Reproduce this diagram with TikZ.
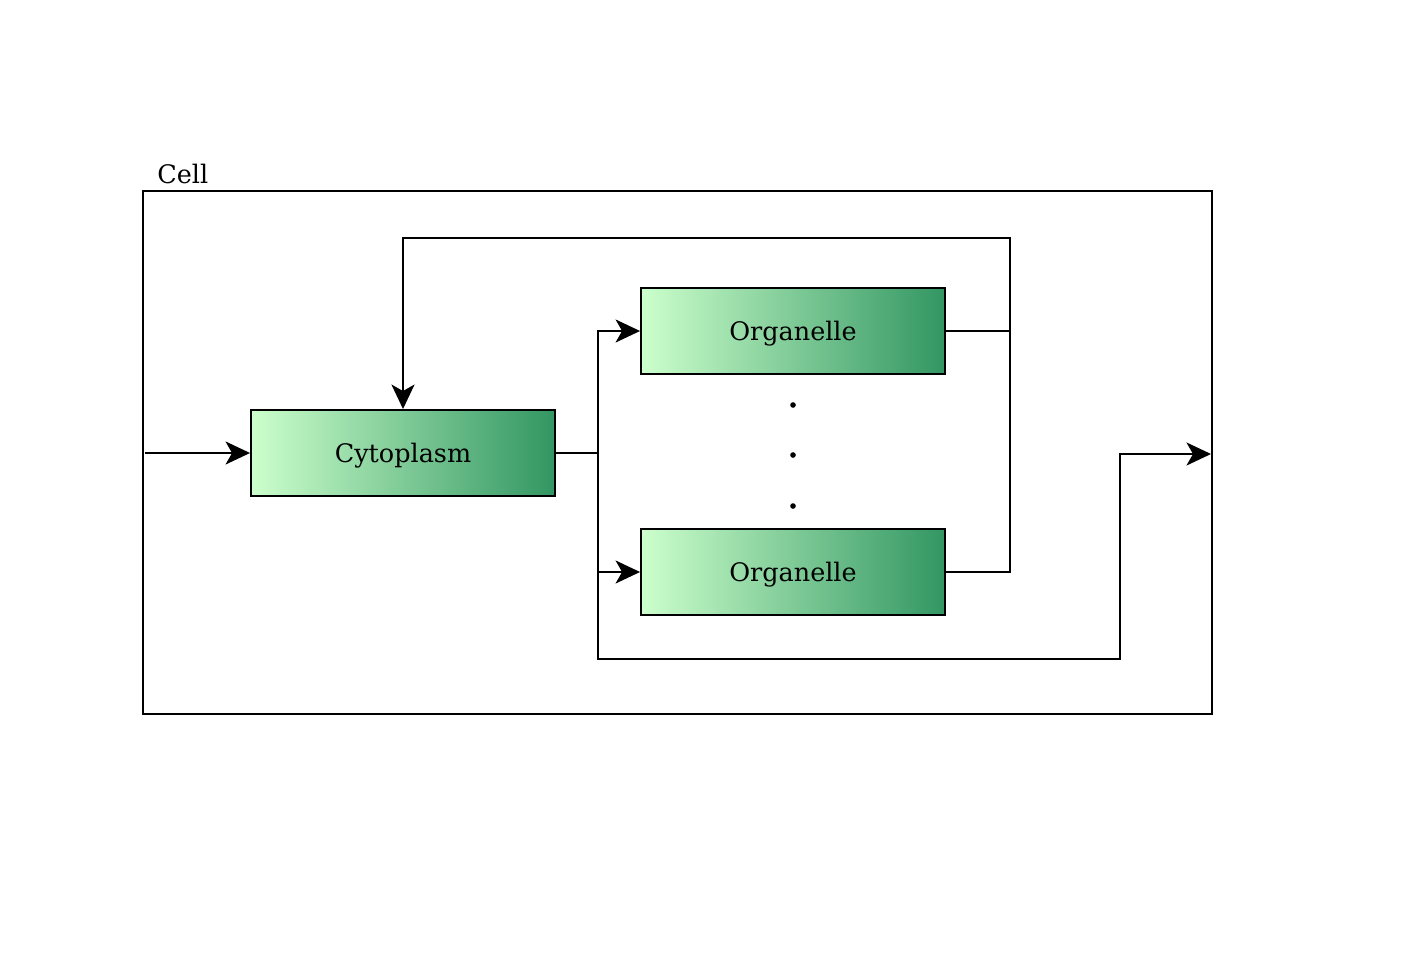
\documentclass[tikz,border=0pt]{standalone}
\usepackage{fontspec}
\setmainfont{DejaVu Serif}
\usetikzlibrary{arrows.meta}
\definecolor{palegreen}{RGB}{204,255,204}
\definecolor{seagreen}{RGB}{50,150,98}
\tikzstyle{compartment} = [rectangle, minimum width=6.08cm, minimum height=1.72cm, text depth=0pt, text centered, draw=black, line width=1.1pt, left color=palegreen, right color=seagreen]
\tikzstyle{arrow} = [line width=1.1pt, -{Stealth[length=4.9mm, width=4.6mm, inset=1.3mm]}]
\tikzstyle{line} = [line width=1.1pt]

\begin{document}
\begin{tikzpicture}[x=0.02cm, y=-0.02cm, font=\fontsize{14.5}{17}\selectfont]
	\useasboundingbox (0,0) rectangle (1426,953);
	\node (cell) [draw, line width=1.1pt, minimum width=21.38cm, minimum height=10.46cm] at (677.5,452.5) {};
	\node (celllabel) [anchor=south west, inner sep=0pt] at (157,184) {Cell};
	\node (cyto) [compartment] at (403,453) {Cytoplasm};
	\node (org1) [compartment] at (793,331) {Organelle};
	\node (org2) [compartment] at (793,572) {Organelle};
	\foreach \y in {405,455,506}
		\fill (793,\y) circle (1.6pt);
	
	\coordinate (in) at (145,453);
	\coordinate (split) at (598,453);
	\coordinate (turn) at (1120,659);
	\coordinate (out) at (1211,454);
	\coordinate (merge) at (1010,331);
	\coordinate (top) at (1010,238);
	
	\draw [arrow] (in) -- (cyto.west);
	\draw [line width=1.6pt] (cyto.east) -- (split);
	\draw [arrow] (split) |- (org1.west);
	\draw [arrow] (split) |- (org2.west);
	\draw [arrow] (split) |- (turn) |- (out);
	\draw [line] (org1.east) -- (merge);
	\draw [line] (org2.east) -| (merge);
	\draw [arrow, line width=1.3pt] (merge) -- (top) -| (cyto.north);
\end{tikzpicture}
\end{document}
